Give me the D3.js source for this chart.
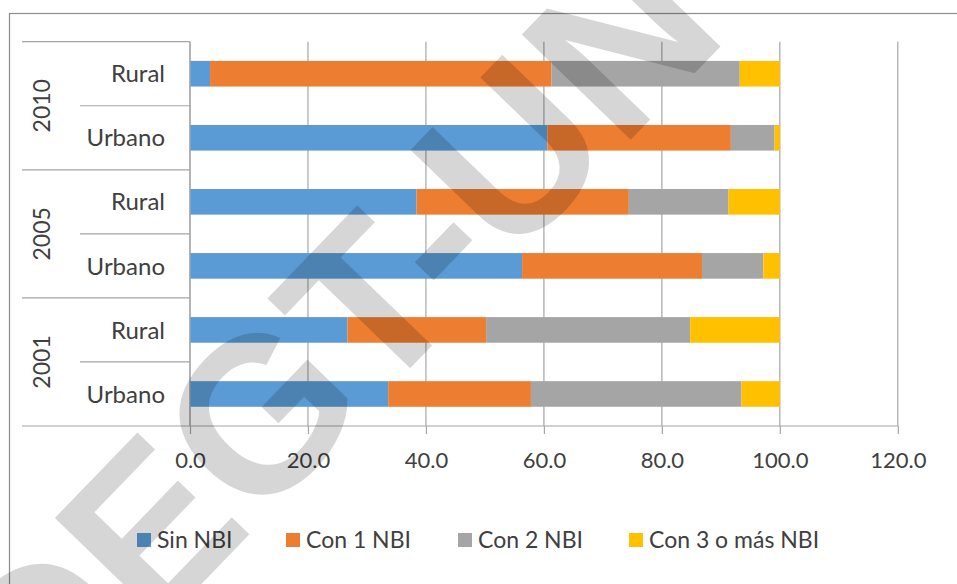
<!DOCTYPE html>
<html>
<head>
<meta charset="utf-8">
<script src="https://cdn.jsdelivr.net/npm/d3@7"></script>
<style>
  body { margin: 0; background: #fff; }
  text { font-family: Lato, "Open Sans", sans-serif; fill: #404040; }
</style>
</head>
<body>
<svg id="chart" width="957" height="584"></svg>
<script>
// rows, top to bottom
const years = ["2010", "2005", "2001"];
const zones = ["Rural", "Urbano"];
const series = ["Sin NBI", "Con 1 NBI", "Con 2 NBI", "Con 3 o más NBI"];
const sinNBI  = [3.4, 60.6, 38.4, 56.3, 26.7, 33.6];
const con1NBI = [57.9, 31.1, 36.0, 30.5, 23.5, 24.2];
const con2NBI = [31.9, 7.4, 16.9, 10.4, 34.6, 35.7];
const con3NBI = [6.8, 0.9, 8.7, 2.8, 15.2, 6.5];
const xTicks = [0, 20, 40, 60, 80, 100, 120];

const colors = ["#5B9BD5", "#ED7D31", "#A5A5A5", "#FFC000"];

const svg = d3.select("#chart");
const width = 957, height = 584;
const margin = { top: 41.7, right: 59.2, bottom: 158, left: 190 };

const rows = [];
years.forEach(y => zones.forEach(z => rows.push(y + "|" + z)));
const data = rows.map((r, i) => ({
    row: r,
    vals: [sinNBI[i], con1NBI[i], con2NBI[i], con3NBI[i]]
}));

// outer frame
svg.append("rect")
    .attr("x", 9.5).attr("y", 13.5)
    .attr("width", 960).attr("height", 600)
    .attr("fill", "none").attr("stroke", "#8c8c8c").attr("stroke-width", 1.2);

const x = d3.scaleLinear()
    .domain([0, 120])
    .range([margin.left, width - margin.right]);

const y = d3.scaleBand()
    .domain(rows)
    .range([margin.top, height - margin.bottom])
    .paddingInner(0.6)
    .paddingOuter(0.3);

const plotBottom = height - margin.bottom;
const gridColor = "#a6a6a6";

// gridlines
svg.append("g")
    .selectAll("line")
    .data(xTicks)
    .join("line")
    .attr("x1", d => x(d)).attr("x2", d => x(d))
    .attr("y1", margin.top).attr("y2", plotBottom)
    .attr("stroke", gridColor).attr("stroke-width", 1.2);

// bars
const stack = d3.stack().keys([0, 1, 2, 3]).value((d, k) => d.vals[k]);
const layers = stack(data);

svg.append("g")
    .selectAll("g")
    .data(layers)
    .join("g")
    .attr("fill", (d, i) => colors[i])
    .selectAll("rect")
    .data(d => d)
    .join("rect")
    .attr("x", d => x(d[0]))
    .attr("width", d => x(d[1]) - x(d[0]))
    .attr("y", d => y(d.data.row))
    .attr("height", y.bandwidth());

// x axis
const xAxis = svg.append("g")
    .attr("transform", `translate(0,${plotBottom})`)
    .call(d3.axisBottom(x).tickValues(xTicks).tickFormat(d3.format(".1f")).tickSize(8).tickPadding(18));
xAxis.select(".domain").remove();
xAxis.selectAll(".tick line").attr("stroke", gridColor).attr("stroke-width", 1.2);
xAxis.selectAll(".tick text")
    .style("font-family", "Lato, sans-serif")
    .style("font-size", "22px")
    .attr("fill", "#404040");

// category axis lines
const step = y.step();
svg.append("line")
    .attr("x1", 22).attr("x2", x(120))
    .attr("y1", plotBottom).attr("y2", plotBottom)
    .attr("stroke", gridColor).attr("stroke-width", 1.2);
svg.append("line")
    .attr("x1", margin.left).attr("x2", margin.left)
    .attr("y1", margin.top).attr("y2", plotBottom)
    .attr("stroke", gridColor).attr("stroke-width", 1.2);

const sepData = d3.range(rows.length).map(i => ({
    yy: margin.top + i * step,
    outer: i % 2 === 0
}));
svg.append("g")
    .selectAll("line")
    .data(sepData)
    .join("line")
    .attr("x1", d => d.outer ? 22 : 80).attr("x2", margin.left)
    .attr("y1", d => d.yy).attr("y2", d => d.yy)
    .attr("stroke", gridColor).attr("stroke-width", 1.2);

// zone labels
svg.append("g")
    .selectAll("text")
    .data(rows)
    .join("text")
    .attr("x", 165)
    .attr("y", d => y(d) + y.bandwidth() / 2)
    .attr("dy", "0.36em")
    .attr("text-anchor", "end")
    .style("font-size", "24px")
    .text(d => d.split("|")[1]);

// year labels
svg.append("g")
    .selectAll("text")
    .data(years)
    .join("text")
    .attr("transform", (d, i) => `translate(42,${margin.top + (2 * i + 1) * step}) rotate(-90)`)
    .attr("dy", "0.36em")
    .attr("text-anchor", "middle")
    .style("font-size", "23px")
    .text(d => d);

// legend
const legendX = [137, 286, 458, 629];
const legend = svg.append("g").attr("transform", "translate(0,540)");
series.forEach((s, i) => {
    legend.append("rect")
        .attr("x", legendX[i]).attr("y", -7)
        .attr("width", 14).attr("height", 14)
        .attr("fill", colors[i]);
    legend.append("text")
        .attr("x", legendX[i] + 20).attr("y", 0)
        .attr("dy", "0.36em")
        .style("font-size", "23px")
        .text(s);
});

// watermark
svg.append("text")
    .attr("transform", "translate(258,412) rotate(-46)")
    .attr("x", -391).attr("y", 79)
    .style("font-family", "'Liberation Sans', Arial, sans-serif")
    .style("font-weight", "bold")
    .style("font-size", "220px")
    .style("fill", "rgba(0,0,0,0.16)")
    .text("DEGT-UN");
</script>
</body>
</html>
